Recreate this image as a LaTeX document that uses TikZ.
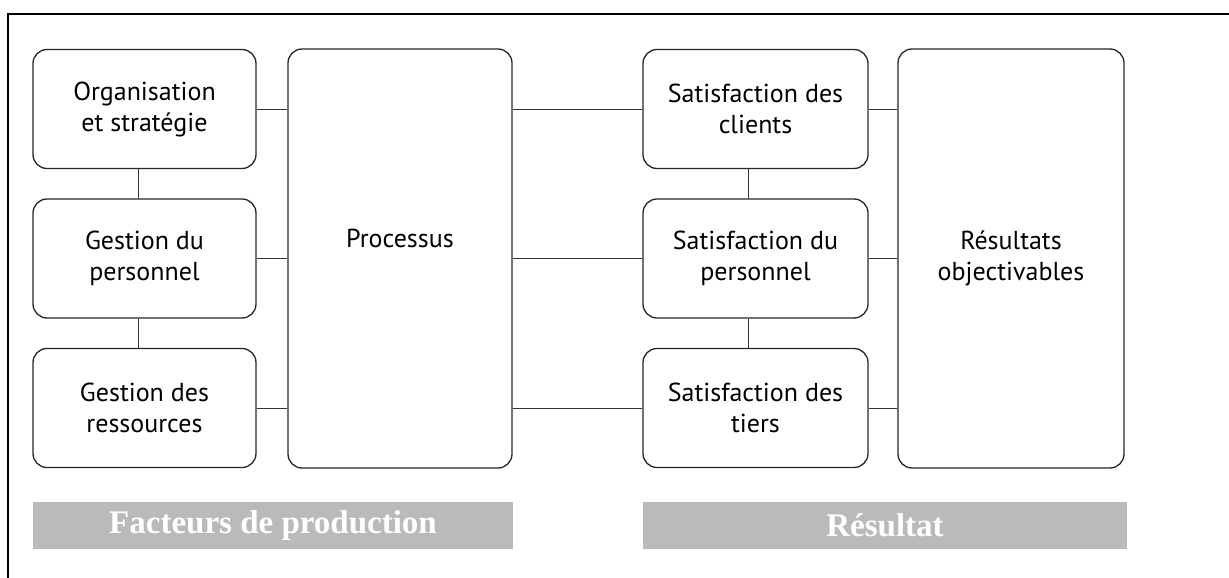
\documentclass[tikz,border=0pt]{standalone}
\usepackage{fontspec}
\setmainfont{PT Sans}
\newfontfamily\barfont{Liberation Serif}
\begin{document}
\begin{tikzpicture}[x=1pt,y=-1pt,
  box/.style={draw=black!85, line width=1.3pt, rounded corners=14pt, align=center,
    font=\fontsize{26}{31}\selectfont, inner sep=0pt},
  small/.style={box, minimum width=223pt, minimum height=119pt},
  tall/.style={box, minimum width=224pt, minimum height=419pt},
  link/.style={draw=black!80, line width=0.9pt},
  bar/.style={fill=black!27, minimum width=481pt, minimum height=47pt, inner sep=0pt,
    text=white, font=\barfont\bfseries\fontsize{33}{33}\selectfont},
  frame/.style={draw=black, line width=1.6pt}]
\useasboundingbox (0,0) rectangle (1229,578);
\coordinate (ftl) at (8,14);
\coordinate (ftr) at (1229,14);
\coordinate (fbl) at (8,578);
\draw[frame] (fbl) -- (ftl) -- (ftr);

\node[small] (org) at (144.5,109) {Organisation\\et stratégie};
\node[small] (gp) at (144.5,258.5) {Gestion du\\personnel};
\node[small] (gr) at (144.5,408) {Gestion des\\ressources};
\node[tall] (proc) at (400,258.5) {Processus\\\strut};
\node[small, minimum width=225pt] (sc) at (755.5,109) {Satisfaction des\\clients};
\node[small, minimum width=225pt] (sp) at (755.5,258.5) {Satisfaction du\\personnel};
\node[small, minimum width=225pt] (st) at (755.5,408) {Satisfaction des\\tiers};
\node[tall, minimum width=226pt] (res) at (1011,258.5) {Résultats\\objectivables};

\draw[link] ([xshift=-6pt]org.south) -- ([xshift=-6pt]gp.north);
\draw[link] ([xshift=-6pt]gp.south) -- ([xshift=-6pt]gr.north);
\draw[link] ([xshift=-7.5pt]sc.south) -- ([xshift=-7.5pt]sp.north);
\draw[link] ([xshift=-7.5pt]sp.south) -- ([xshift=-7.5pt]st.north);

\draw[link] (org.east) -- (org.east -| proc.west);
\draw[link] (gp.east) -- (gp.east -| proc.west);
\draw[link] (gr.east) -- (gr.east -| proc.west);
\draw[link] (sc.west -| proc.east) -- (sc.west);
\draw[link] (sp.west -| proc.east) -- (sp.west);
\draw[link] (st.west -| proc.east) -- (st.west);
\draw[link] (sc.east) -- (sc.east -| res.west);
\draw[link] (sp.east) -- (sp.east -| res.west);
\draw[link] (st.east) -- (st.east -| res.west);

\node[bar, minimum width=480pt] (fp) at (273,525.5) {Facteurs de production};
\node[bar, minimum width=484pt] (rs) at (885,525.5) {Résultat};
\end{tikzpicture}
\end{document}
